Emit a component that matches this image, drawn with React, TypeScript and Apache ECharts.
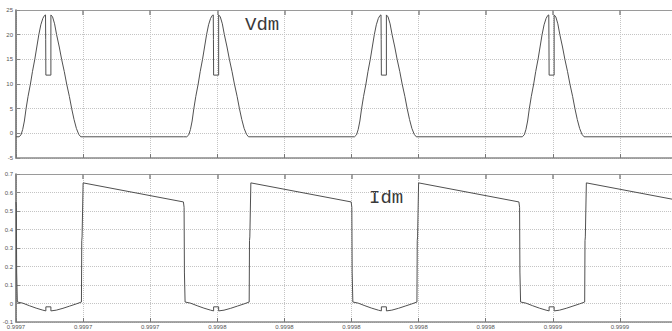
import React, { useEffect, useRef } from "react";
import * as echarts from "echarts";

// time axis in microseconds (absolute), labels shown in seconds
const xMinUs = 999700;
const xMaxUs = 999900;
const xTickUs = 20;
const cycleStartsUs = [999700, 999750, 999800, 999850];

// Vdm: one switching period (phase in µs, volts)
const vdmPhaseUs = [0, 0.9, 1.5, 2.0, 2.5, 3.0, 3.6, 4.3, 4.9, 5.6, 6.2, 6.8, 7.4, 8.0, 8.5, 8.8, 8.85, 8.9, 10.4, 10.4, 10.9, 11.5, 12.1, 12.9, 13.6, 14.4, 15.1, 15.9, 16.6, 17.3, 18.0, 18.7, 19.3, 49.9];
const vdmValues = [-0.7, -0.7, -0.3, 0.8, 2.5, 5.0, 7.5, 10, 12.5, 15, 17.5, 20, 22, 23.3, 23.9, 24, 19, 11.8, 11.8, 24, 23.6, 22.2, 20, 17.5, 15, 12.5, 10, 7.5, 5, 2.8, 1.0, -0.2, -0.7, -0.7];

// Idm: one switching period (phase in µs, amps)
const idmPhaseUs = [0, 0.1, 0.2, 0.4, 2, 4, 6, 8, 8.9, 8.9, 10.4, 10.4, 12, 14, 16, 18, 19.5, 19.6, 19.7, 20.0, 49.9];
const idmValues = [0.548, 0.52, 0.17, 0.008, 0.002, -0.012, -0.025, -0.036, -0.04, -0.018, -0.018, -0.04, -0.036, -0.026, -0.014, -0.002, 0.008, 0.34, 0.36, 0.652, 0.549];

const vdmAxis = { min: -5, max: 25, step: 5 };
const idmAxis = { min: -0.1, max: 0.7, step: 0.1 };

const buildSeries = (phases: number[], values: number[]) => {
  const out: number[][] = [];
  cycleStartsUs.forEach((s) => {
    phases.forEach((p, i) => out.push([s + p, values[i]]));
  });
  return out;
};

export default function App() {
  const ref = useRef<HTMLDivElement>(null);
  useEffect(() => {
    document.body.style.margin = "0";
    const chart = echarts.init(ref.current!, undefined, { renderer: "svg" });
    const lineCol = "#505050";
    const frameCol = "#8a8a8a";
    const gridCol = "#c4c4c4";
    const fmtX = (v: number) => (v / 1e6).toFixed(4);
    const baseX = (gi: number, bottomLabels: boolean) => ({
      type: "value",
      gridIndex: gi,
      min: xMinUs,
      max: xMaxUs,
      interval: xTickUs,
      position: "bottom",
      axisLine: { show: true, onZero: false, lineStyle: { color: frameCol, width: 1.5 } },
      axisTick: { show: true, inside: true, length: 4, lineStyle: { color: "#777", width: 1 } },
      axisLabel: {
        show: bottomLabels,
        formatter: fmtX,
        fontSize: 6,
        fontFamily: "Liberation Sans Narrow, Liberation Sans, sans-serif",
        color: "#555",
        margin: 2,
        showMaxLabel: false,
        showMinLabel: true,
      },
      splitLine: { show: true, lineStyle: { color: gridCol, type: "dotted", width: 1 } },
    });
    const topX = (gi: number) => ({
      type: "value",
      gridIndex: gi,
      min: xMinUs,
      max: xMaxUs,
      interval: xTickUs,
      position: "top",
      axisLine: { show: true, onZero: false, lineStyle: { color: "#9a9a9a", width: 1 } },
      axisTick: { show: true, inside: true, length: 5, lineStyle: { color: "#888", width: 1.5 } },
      axisLabel: { show: false },
      splitLine: { show: false },
    });
    const yAx = (gi: number, a: { min: number; max: number; step: number }) => ({
      type: "value",
      gridIndex: gi,
      min: a.min,
      max: a.max,
      interval: a.step,
      axisLine: { show: true, onZero: false, lineStyle: { color: "#666", width: 1.5 } },
      axisTick: { show: true, inside: true, length: 4, lineStyle: { color: "#888" } },
      axisLabel: {
        fontSize: 6,
        fontFamily: "Liberation Sans Narrow, Liberation Sans, sans-serif",
        color: "#555",
        margin: 3,
      },
      splitLine: { show: true, lineStyle: { color: gridCol, type: "dotted", width: 1 } },
    });
    chart.setOption({
      animation: false,
      backgroundColor: "#ffffff",
      grid: [
        { left: 16, top: 10, width: 671, height: 148, outerBoundsMode: "none", containLabel: false },
        { left: 16, top: 174, width: 671, height: 148, outerBoundsMode: "none", containLabel: false },
      ],
      xAxis: [baseX(0, false), baseX(1, true), topX(0), topX(1)],
      yAxis: [yAx(0, vdmAxis), yAx(1, idmAxis)],
      series: [
        {
          type: "line",
          name: "Vdm",
          xAxisIndex: 0,
          yAxisIndex: 0,
          data: buildSeries(vdmPhaseUs, vdmValues),
          showSymbol: false,
          lineStyle: { color: lineCol, width: 1 },
          clip: true,
        },
        {
          type: "line",
          name: "Idm",
          xAxisIndex: 1,
          yAxisIndex: 1,
          data: buildSeries(idmPhaseUs, idmValues),
          showSymbol: false,
          lineStyle: { color: lineCol, width: 1 },
          clip: true,
        },
      ],
      graphic: [
        {
          type: "text",
          left: 245,
          top: 15,
          style: { text: "Vdm", fontSize: 19, fontFamily: "Liberation Mono, monospace", fill: "#3a3a3a" },
        },
        {
          type: "text",
          left: 369,
          top: 188,
          style: { text: "Idm", fontSize: 19, fontFamily: "Liberation Mono, monospace", fill: "#3a3a3a" },
        },
      ],
    });
    return () => chart.dispose();
  }, []);
  return <div ref={ref} style={{ width: 672, height: 331, overflow: "hidden" }} />;
}
